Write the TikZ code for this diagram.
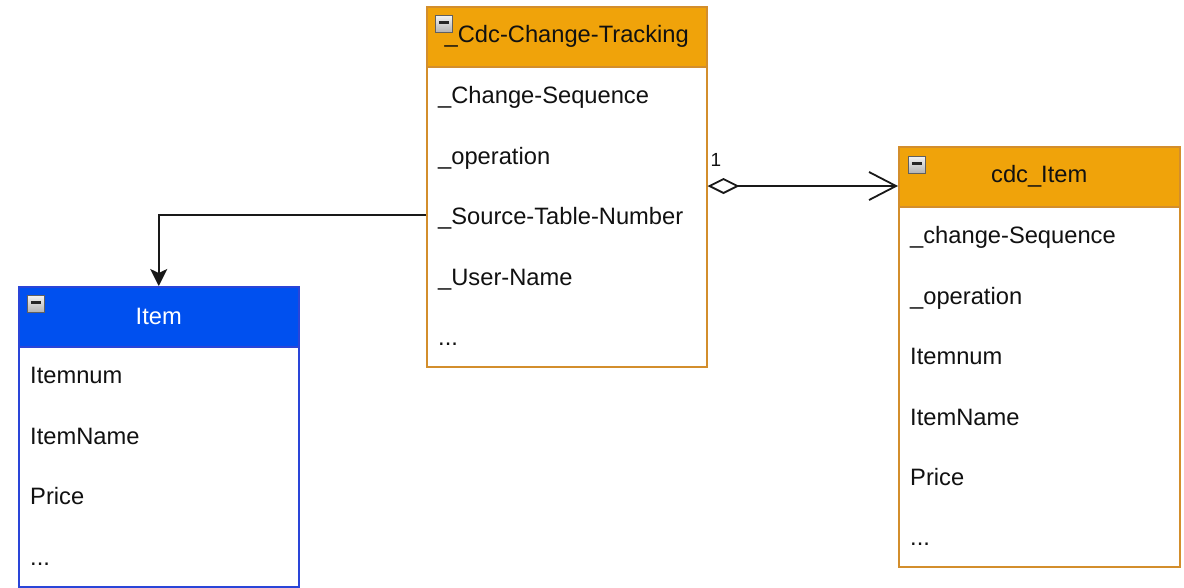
\documentclass[tikz,border=0pt]{standalone}
\usepackage{fontspec}
\setmainfont{Liberation Sans}
\usetikzlibrary{arrows.meta,positioning,calc}
\definecolor{orgfill}{HTML}{F0A30A}
\definecolor{orgline}{HTML}{D38E2C}
\definecolor{bluefill}{HTML}{0050EF}
\definecolor{blueline}{HTML}{2A45D8}
\definecolor{txt}{HTML}{111111}
\newcommand\umlfont{\fontsize{23.7}{28}\selectfont}
\tikzset{
  hdr/.style={line width=1.5pt, minimum width=#1, minimum height=60pt,
    anchor=north west, inner sep=0pt, font=\umlfont},
  hdrorange/.style={hdr=#1, draw=orgline, fill=orgfill, text=txt},
  hdrblue/.style={hdr=#1, draw=blueline, fill=bluefill, text=white},
  bodybox/.style={line width=1.5pt, fill=white, minimum width=#1, anchor=north west, inner sep=0pt},
  attr/.style={inner xsep=12pt, inner ysep=0pt, text width=256pt, minimum height=60pt,
    align=left, font=\umlfont, text=txt, execute at begin node=\strut},
  collapse/.style={anchor=north west, minimum size=17pt, inner sep=0pt,
    draw=gray!75!black, line width=0.6pt, top color=gray!10, bottom color=gray!60},
  conn/.style={line width=1.8pt, black!90},
}
\newcommand\minusbar{\textcolor{black!85}{\rule[2.5pt]{10pt}{2.6pt}}}
\begin{document}
\begin{tikzpicture}[x=1pt,y=-1pt]
\useasboundingbox (0,0) rectangle (1184,587);

% ---- _Cdc-Change-Tracking ----
\node[bodybox=280pt, draw=orgline, minimum height=300pt] (cctb) at (426,66) {};
\node[hdrorange=280pt] (cct) at (426,6) {\_Cdc-Change-Tracking};
\node[collapse] (cct-ic) at ($(cct.north west)+(9,9)$) {\minusbar};
\node[attr, anchor=north west] (c1) at ($(cctb.north west)+(0,2)$) {\_Change-Sequence};
\node[attr, below=0pt of c1] (c2) {\_operation};
\node[attr, below=0pt of c2] (c3) {\_Source-Table-Number};
\node[attr, below=0pt of c3] (c4) {\_User-Name};
\node[attr, below=0pt of c4] (c5) {...};

% ---- Item ----
\node[bodybox=280pt, draw=blueline, minimum height=240pt] (itemb) at (18,346) {};
\node[hdrblue=280pt] (item) at (18,286) {Item};
\node[collapse] (item-ic) at ($(item.north west)+(9,9)$) {\minusbar};
\node[attr, anchor=north west] (i1) at ($(itemb.north west)+(0,2)$) {Itemnum};
\node[attr, below=0pt of i1] (i2) {ItemName};
\node[attr, below=0pt of i2] (i3) {Price};
\node[attr, below=0pt of i3] (i4) {...};

% ---- cdc_Item ----
\node[bodybox=281pt, draw=orgline, minimum height=360pt] (cdcb) at (898,206) {};
\node[hdrorange=281pt] (cdc) at (898,146) {cdc\_Item};
\node[collapse] (cdc-ic) at ($(cdc.north west)+(10,10)$) {\minusbar};
\node[attr, anchor=north west] (d1) at ($(cdcb.north west)+(0,2)$) {\_change-Sequence};
\node[attr, below=0pt of d1] (d2) {\_operation};
\node[attr, below=0pt of d2] (d3) {Itemnum};
\node[attr, below=0pt of d3] (d4) {ItemName};
\node[attr, below=0pt of d4] (d5) {Price};
\node[attr, below=0pt of d5] (d6) {...};

% ---- connectors ----
\draw[conn, -{Stealth[length=17pt, width=17pt, inset=4pt]}]
  (c3.west |- 0,215) -| (item.north);
\draw[conn, {Diamond[fill=white, length=32pt, width=16pt]}-{Straight Barb[length=27pt, width=28pt]}]
  (cctb.east |- 0,186) -- (cdc.west |- 0,186);
\node[font=\fontsize{19}{22}\selectfont, text=txt, inner sep=0pt] (mult) at (716,160) {1};
\end{tikzpicture}
\end{document}
